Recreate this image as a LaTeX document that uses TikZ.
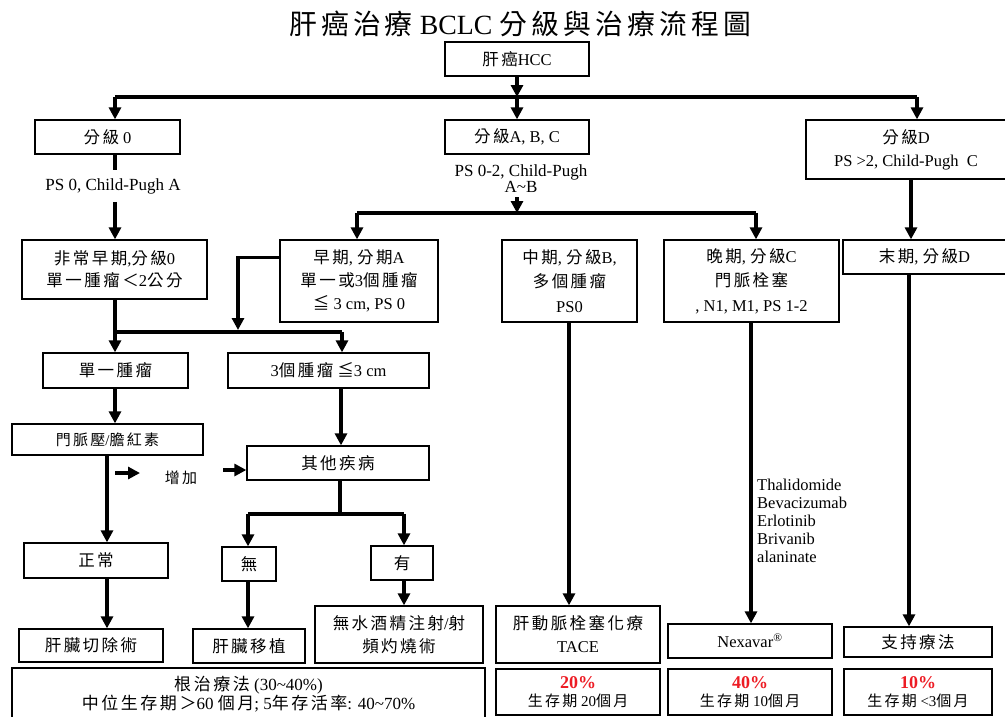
\documentclass[tikz,border=0pt]{standalone}
\usepackage{fontspec}
\setmainfont{Liberation Serif}
\newfontfamily\cjk[LetterSpace=15]{Noto Sans CJK TC}
\usetikzlibrary{arrows.meta}
\XeTeXinterchartokenstate=1
\count255="4E00
\loop\ifnum\count255<"A000
  \XeTeXcharclass\count255=10
  \advance\count255 by 1
\repeat
\XeTeXcharclass"2266=10
\XeTeXcharclass"FF1C=10
\XeTeXcharclass"FF1E=10
\XeTeXinterchartoks 0 10 = {\cjk}
\XeTeXinterchartoks 4095 10 = {\cjk}
\XeTeXinterchartoks 10 0 = {\rmfamily}
\XeTeXinterchartoks 10 4095 = {\rmfamily}
\definecolor{pctred}{RGB}{237,28,36}
\tikzset{
  box/.style={draw, line width=1.3pt, align=center, inner sep=0pt, font=\fontsize{16.5}{23}\selectfont},
  lbl/.style={align=center, inner xsep=0pt, font=\fontsize{17}{15.5}\selectfont},
  ln/.style={line width=3.6pt},
  arr/.style={line width=3.6pt, -{Triangle[width=12pt,length=12pt]}},
  pbox/.style={box, font=\fontsize{15}{18}\selectfont}
}
\begin{document}
\begin{tikzpicture}[x=1pt,y=-1pt]
\useasboundingbox (0,0) rectangle (1005,716);
% title
\node[font=\fontsize{27.8}{32}\selectfont, inner sep=0pt] (title) at (520,24) {肝癌治療 BCLC 分級與治療流程圖};
% top
\node[box, minimum width=144pt, minimum height=34pt] (hcc) at (517,59) {肝癌HCC};
\node[box, minimum width=145pt, minimum height=34pt] (g0) at (107.5,137) {分級 0};
\node[box, minimum width=144pt, minimum height=34pt] (gabc) at (517,137) {分級A, B, C};
\node[box, minimum width=200pt, minimum height=59pt] (gd) at (906,149.5) {分級D\\PS >2, Child-Pugh\ \ C};
\node[lbl, inner ysep=8pt] (lbl0) at (113,186) {PS 0, Child-Pugh A};
\node[lbl, inner ysep=5pt] (lblabc) at (521,178.5) {PS 0-2, Child-Pugh\\A\textasciitilde B};
% row 2
\node[box, minimum width=185pt, minimum height=59pt, font=\fontsize{16.5}{22}\selectfont] (vearly) at (114.5,269.5) {非常早期,分級0\\單一腫瘤＜2公分};
\node[box, minimum width=158pt, minimum height=82pt] (early) at (359,281) {早期, 分期A\\單一或3個腫瘤\\≦ 3 cm, PS 0};
\node[box, minimum width=135pt, minimum height=82pt, font=\fontsize{16.5}{24.5}\selectfont] (mid) at (569.5,281) {中期, 分級B,\\多個腫瘤\\PS0};
\node[box, minimum width=175pt, minimum height=82pt, font=\fontsize{16.5}{24.5}\selectfont] (late) at (751.5,281) {晚期, 分級C\\門脈栓塞\\, N1, M1, PS 1-2};
\node[box, minimum width=163pt, minimum height=34pt] (term) at (924.5,257) {末期, 分級D};
% row 3
\node[box, minimum width=145pt, minimum height=35pt] (single) at (115.5,370.5) {單一腫瘤};
\node[box, minimum width=201pt, minimum height=35pt] (three) at (328.5,370.5) {3個腫瘤 ≦3 cm};
\node[box, minimum width=191pt, minimum height=31pt, font=\fontsize{15}{20}\selectfont] (portal) at (107.5,439.5) {門脈壓/膽紅素};
\node[box, minimum width=182pt, minimum height=34pt] (other) at (338,463) {其他疾病};
\node[inner sep=0pt, font=\fontsize{15}{18}\selectfont] (inc) at (181,478) {增加};
% row 4
\node[box, minimum width=144pt, minimum height=35pt] (normal) at (96,560.5) {正常};
\node[box, minimum width=54pt, minimum height=34pt] (none) at (249,564) {無};
\node[box, minimum width=62pt, minimum height=34pt] (yes) at (402,563) {有};
% row 5
\node[box, minimum width=144pt, minimum height=33pt] (resect) at (91,645.5) {肝臟切除術};
\node[box, minimum width=112pt, minimum height=34pt] (transplant) at (249,646) {肝臟移植};
\node[box, minimum width=168pt, minimum height=57pt] (ablation) at (399,634.5) {無水酒精注射/射\\頻灼燒術};
\node[box, minimum width=164pt, minimum height=57pt] (tace) at (578,634.5) {肝動脈栓塞化療\\TACE};
\node[box, minimum width=164pt, minimum height=34pt] (nexavar) at (750,641) {Nexavar\textsuperscript{®}};
\node[box, minimum width=148pt, minimum height=30pt] (support) at (918,642) {支持療法};
% bottom
\node[box, minimum width=473pt, minimum height=52pt, font=\fontsize{17}{17.5}\selectfont] (cure) at (248.5,694) {根治療法 (30\textasciitilde40\%)\\中位生存期＞60 個月; 5年存活率: 40\textasciitilde70\%};
\node[pbox, minimum width=164pt, minimum height=46pt] (p20) at (578,692) {{\fontsize{18}{18}\selectfont\bfseries\color{pctred}20\%}\\生存期 20個月};
\node[pbox, minimum width=164pt, minimum height=46pt] (p40) at (750,692) {{\fontsize{18}{18}\selectfont\bfseries\color{pctred}40\%}\\生存期 10個月};
\node[pbox, minimum width=148pt, minimum height=46pt] (p10) at (918,692) {{\fontsize{18}{18}\selectfont\bfseries\color{pctred}10\%}\\生存期 <3個月};
% drugs
\node[anchor=north west, align=left, inner sep=0pt, font=\fontsize{16.5}{18}\selectfont] (drugs) at (757,479) {Thalidomide\\Bevacizumab\\Erlotinib\\Brivanib\\alaninate};
% junction coordinates
\coordinate (j1) at (517,97);
\coordinate (jL) at (115,97);
\coordinate (jR) at (917,97);
\coordinate (jM) at (517,213);
\coordinate (jML) at (357,213);
\coordinate (jMR) at (756,213);
\coordinate (jE) at (238,330);
\coordinate (jA) at (115,332);
\coordinate (jB) at (342,332);
\coordinate (jO) at (340,514);
\coordinate (jOL) at (248,514);
\coordinate (jOR) at (404,514);
\coordinate (a1s) at (115,473);
\coordinate (a1e) at (140,473);
\coordinate (a2s) at (223,470);
% connectors
\draw[arr] (hcc.south) -- (j1);
\draw[ln] (jL) -- (jR);
\draw[arr] (jL) -- (jL |- g0.north);
\draw[arr] (j1) -- (gabc.north);
\draw[arr] (jR) -- (jR |- gd.north);
\draw[ln] (jL |- g0.south) -- (jL |- lbl0.north);
\draw[arr] (jL |- lbl0.south) -- (jL |- vearly.north);
\draw[arr] (jM |- lblabc.south) -- (jM);
\draw[ln] (jML) -- (jMR);
\draw[arr] (jML) -- (jML |- early.north);
\draw[arr] (jMR) -- (jMR |- late.north);
\draw[arr] (911,0 |- gd.south) -- (911,0 |- term.north);
\draw[arr] ([yshift=-18pt]early.north west) -| (jE);
\draw[ln] (jA |- vearly.south) -- (jA) -- (jB);
\draw[arr] (jA) -- (jA |- single.north);
\draw[arr] (jB) -- (jB |- three.north);
\draw[arr] (jA |- single.south) -- (jA |- portal.north);
\draw[arr] (341,0 |- three.south) -- (341,0 |- other.north);
\draw[arr] (107,0 |- portal.south) -- (107,0 |- normal.north);
\draw[arr] (a1s) -- (a1e);
\draw[arr] (a2s) -- (a2s -| other.west);
\draw[ln] (jO |- other.south) -- (jO);
\draw[ln] (jOL) -- (jOR);
\draw[arr] (jOL) -- (jOL |- none.north);
\draw[arr] (jOR) -- (jOR |- yes.north);
\draw[arr] (107,0 |- normal.south) -- (107,0 |- resect.north);
\draw[arr] (248,0 |- none.south) -- (248,0 |- transplant.north);
\draw[arr] (jOR |- yes.south) -- (jOR |- ablation.north);
\draw[arr] (569,0 |- mid.south) -- (569,0 |- tace.north);
\draw[arr] (751,0 |- late.south) -- (751,0 |- nexavar.north);
\draw[arr] (909,0 |- term.south) -- (909,0 |- support.north);
\end{tikzpicture}
\end{document}
